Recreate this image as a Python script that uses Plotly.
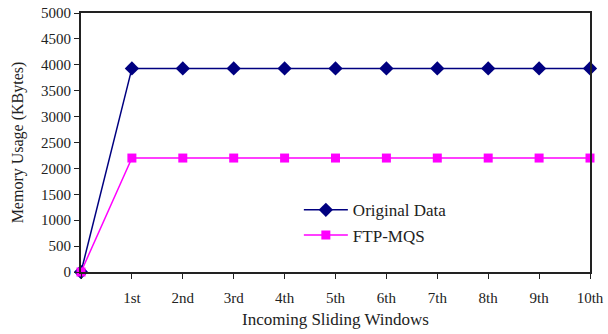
import plotly.graph_objects as go

# Sliding-window positions (0 = start) and their axis labels
window_pos = [0, 1, 2, 3, 4, 5, 6, 7, 8, 9, 10]
tick_labels = ["", "1st", "2nd", "3rd", "4th", "5th", "6th", "7th", "8th", "9th", "10th"]

# Memory usage in KBytes
original_data = [0, 3930, 3930, 3930, 3930, 3930, 3930, 3930, 3930, 3930, 3930]
ftp_mqs = [0, 2200, 2200, 2200, 2200, 2200, 2200, 2200, 2200, 2200, 2200]

font_family = "Liberation Serif"

fig = go.Figure()
fig.add_trace(go.Scatter(
    x=window_pos, y=original_data, name="Original Data",
    mode="lines+markers",
    line=dict(color="#000080", width=1.5),
    marker=dict(symbol="diamond", size=11, color="#000080"),
    cliponaxis=False,
))
fig.add_trace(go.Scatter(
    x=window_pos, y=ftp_mqs, name="FTP-MQS",
    mode="lines+markers",
    line=dict(color="#FF00FF", width=1.5),
    marker=dict(symbol="square", size=9, color="#FF00FF"),
    cliponaxis=False,
))

fig.update_layout(
    width=608, height=334,
    margin=dict(l=81, r=18, t=13, b=62),
    paper_bgcolor="white", plot_bgcolor="white",
    font=dict(family=font_family, size=14, color="#222222"),
    showlegend=True,
    legend=dict(
        x=0.428, y=0.308, xanchor="left", yanchor="top",
        bgcolor="rgba(0,0,0,0)", borderwidth=0,
        font=dict(family=font_family, size=17),
        tracegroupgap=0, itemwidth=44,
    ),
    xaxis=dict(
        range=[0, 10], automargin=False,
        tickmode="array", tickvals=window_pos, ticktext=tick_labels,
        ticks="outside", ticklen=5, tickcolor="#222222",
        ticklabelstandoff=6,
        showgrid=False, zeroline=False,
        showline=True, linecolor="#222222", linewidth=2, mirror=True,
        title=dict(text="Incoming Sliding Windows", standoff=8,
                   font=dict(family=font_family, size=17)),
        tickfont=dict(family=font_family, size=15),
    ),
    yaxis=dict(
        range=[0, 5000], dtick=500, automargin=False,
        ticks="outside", ticklen=5, tickcolor="#222222",
        showgrid=False, zeroline=False,
        showline=True, linecolor="#222222", linewidth=2, mirror=True,
        title=dict(text="Memory Usage (KBytes)", standoff=13,
                   font=dict(family=font_family, size=16)),
        tickfont=dict(family=font_family, size=15),
    ),
)

fig.write_html("out.html")
